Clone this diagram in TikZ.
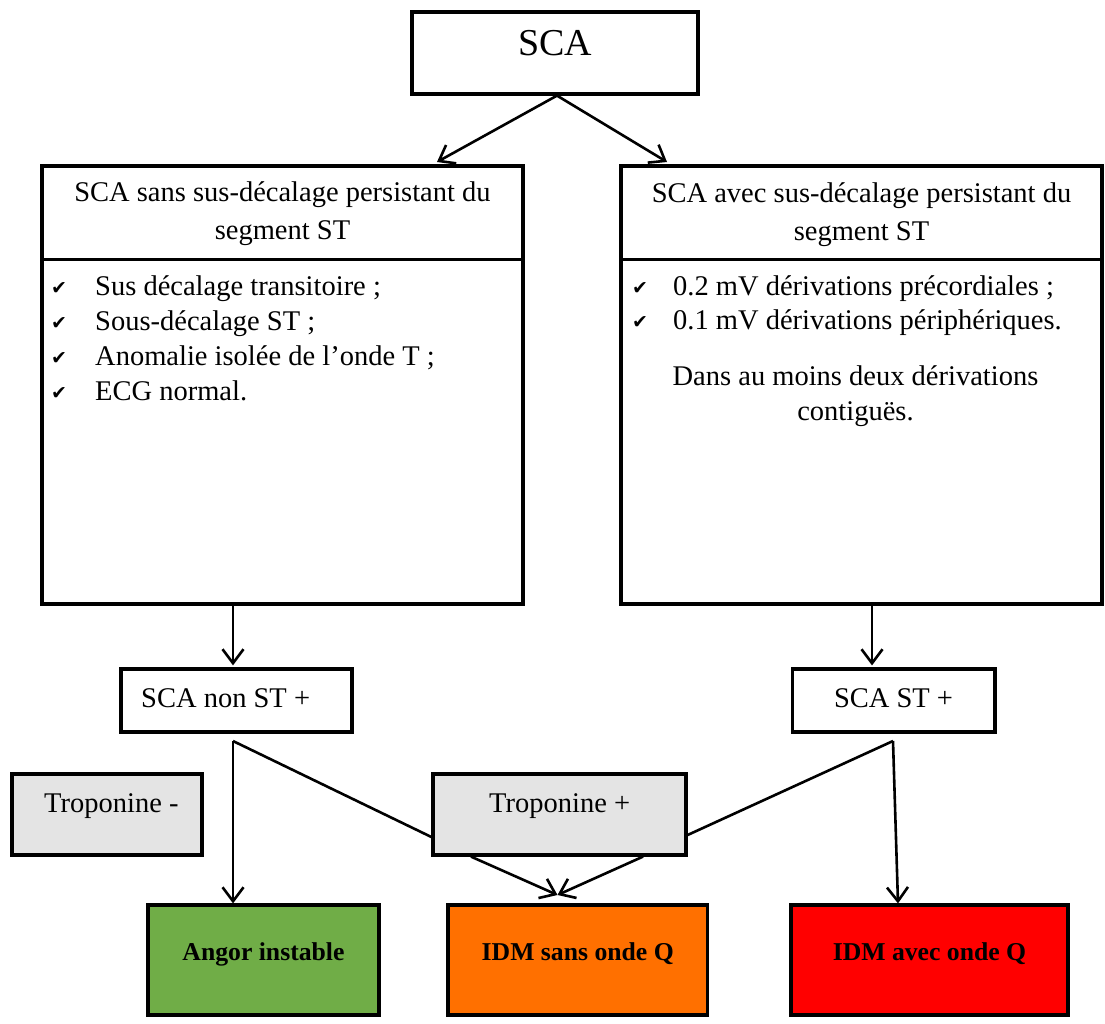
\documentclass[tikz,border=0pt]{standalone}
\usepackage{fontspec}
\setmainfont{Liberation Serif}
\newfontfamily\chkfont{DejaVu Sans}
\usetikzlibrary{arrows.meta}
\definecolor{boxgray}{HTML}{E4E4E4}
\definecolor{angorgreen}{HTML}{70AD47}
\definecolor{idmorange}{HTML}{FF7000}
\definecolor{idmred}{HTML}{FF0000}
\newcommand\myfs{\fontsize{28.5}{34.5}\selectfont}
\newcommand\mybf{\fontsize{25.7}{30}\selectfont\bfseries}
\tikzset{
  box/.style={draw, line width=3.2pt, fill=white, inner sep=0pt},
  gbox/.style={box, fill=boxgray},
  conn/.style={line width=2.6pt},
  arr/.style={conn, -{Straight Barb[length=14pt,width=21pt]}},
  txt/.style={font=\myfs, anchor=base, inner sep=0pt},
  txtl/.style={font=\myfs, anchor=base west, inner sep=0pt},
  btxt/.style={font=\mybf, anchor=base, inner sep=0pt},
  chk/.style={font=\chkfont\fontsize{19}{19}\selectfont, anchor=base west, inner sep=0pt},
}
\begin{document}
\begin{tikzpicture}[x=1pt,y=-1pt]
\useasboundingbox (0,0) rectangle (1105,1023);
% boxes
\node[box, minimum width=286pt, minimum height=82pt] (sca) at (555,53) {};
\node[box, minimum width=481pt, minimum height=438pt] (lbox) at (282.5,385) {};
\node[box, minimum width=481pt, minimum height=438pt] (rbox) at (861.5,385) {};
\node[box, minimum width=231pt, minimum height=63pt] (nonst) at (236.5,700.5) {};
\node[box, minimum width=202.5pt, minimum height=63pt] (st) at (893.75,700.5) {};
\node[gbox, minimum width=190pt, minimum height=81pt] (tmin) at (107,814.5) {};
\node[gbox, minimum width=253pt, minimum height=81pt] (tplus) at (559.5,814.5) {};
\node[box, fill=angorgreen, minimum width=231pt, minimum height=110pt] (angor) at (263.5,960) {};
\node[box, fill=idmorange, minimum width=259.5pt, minimum height=110pt] (idms) at (577.75,960) {};
\node[box, fill=idmred, minimum width=277pt, minimum height=110pt] (idma) at (929.5,960) {};
% dividers
\draw[line width=3.2pt] ([yshift=-95pt]lbox.north west) -- ([yshift=-95pt]lbox.north east);
\draw[line width=3.2pt] ([yshift=-95pt]rbox.north west) -- ([yshift=-95pt]rbox.north east);
% texts
\node[txt, font=\fontsize{38}{40}\selectfont] (tsca) at (555,55) {SCA};
\node[txt] (lh1) at (282.5,201) {SCA sans sus-décalage persistant du};
\node[txt] (lh2) at (282.5,239) {segment ST};
\node[txt] (rh1) at (861.5,202) {SCA avec sus-décalage persistant du};
\node[txt] (rh2) at (861.5,240) {segment ST};
\node[chk] (lc1) at (51,294) {✔};
\node[chk] (lc2) at (51,329) {✔};
\node[chk] (lc3) at (51,364) {✔};
\node[chk] (lc4) at (51,399) {✔};
\node[txtl] (lb1) at (95,295) {Sus décalage transitoire ;};
\node[txtl] (lb2) at (95,330) {Sous-décalage ST ;};
\node[txtl] (lb3) at (95,365) {Anomalie isolée de l’onde T ;};
\node[txtl] (lb4) at (95,400) {ECG normal.};
\node[chk] (rc1) at (632,294) {✔};
\node[chk] (rc2) at (632,328) {✔};
\node[txtl] (rb1) at (673,295) {0.2 mV dérivations précordiales ;};
\node[txtl] (rb2) at (673,329) {0.1 mV dérivations périphériques.};
\node[txt] (rn1) at (855.5,385) {Dans au moins deux dérivations};
\node[txt] (rn2) at (855.5,420) {contiguës.};
\node[txtl] (tnonst) at (141,707) {SCA non ST +};
\node[txt] (tst) at (893.5,707) {SCA ST +};
\node[txtl] (ttmin) at (44,812) {Troponine -};
\node[txtl] (ttplus) at (489,812) {Troponine +};
\node[btxt] (tangor) at (263.5,960) {Angor instable};
\node[btxt] (tidms) at (577.75,960) {IDM sans onde Q};
\node[btxt] (tidma) at (929.5,960) {IDM avec onde Q};
% connector points
\coordinate (lt) at (437,162);
\coordinate (rt) at (667,162);
\coordinate (bl) at (233,741);
\coordinate (br) at (893,741);
\coordinate (tipq) at (557.5,895);
\coordinate (rx) at (872,0);
% connectors
\draw[arr] ([xshift=2pt]sca.south) -- (lt);
\draw[arr] ([xshift=2pt]sca.south) -- (rt);
\draw[arr] (lbox.south -| bl) -- ([yshift=2pt]nonst.north -| bl);
\draw[arr] (rbox.south -| rx) -- ([yshift=2pt]st.north -| rx);
\draw[conn] (bl) -- (tplus.west |- 0,837);
\draw[arr] (bl) -- (angor.north -| bl);
\draw[conn] (br) -- (tplus.east |- 0,835);
\draw[arr] (br) -- ([xshift=-31.5pt]idma.north);
\draw[arr] ([xshift=-88.5pt]tplus.south) -- (tipq);
\draw[arr] ([xshift=83.5pt]tplus.south) -- (tipq);
\end{tikzpicture}
\end{document}
